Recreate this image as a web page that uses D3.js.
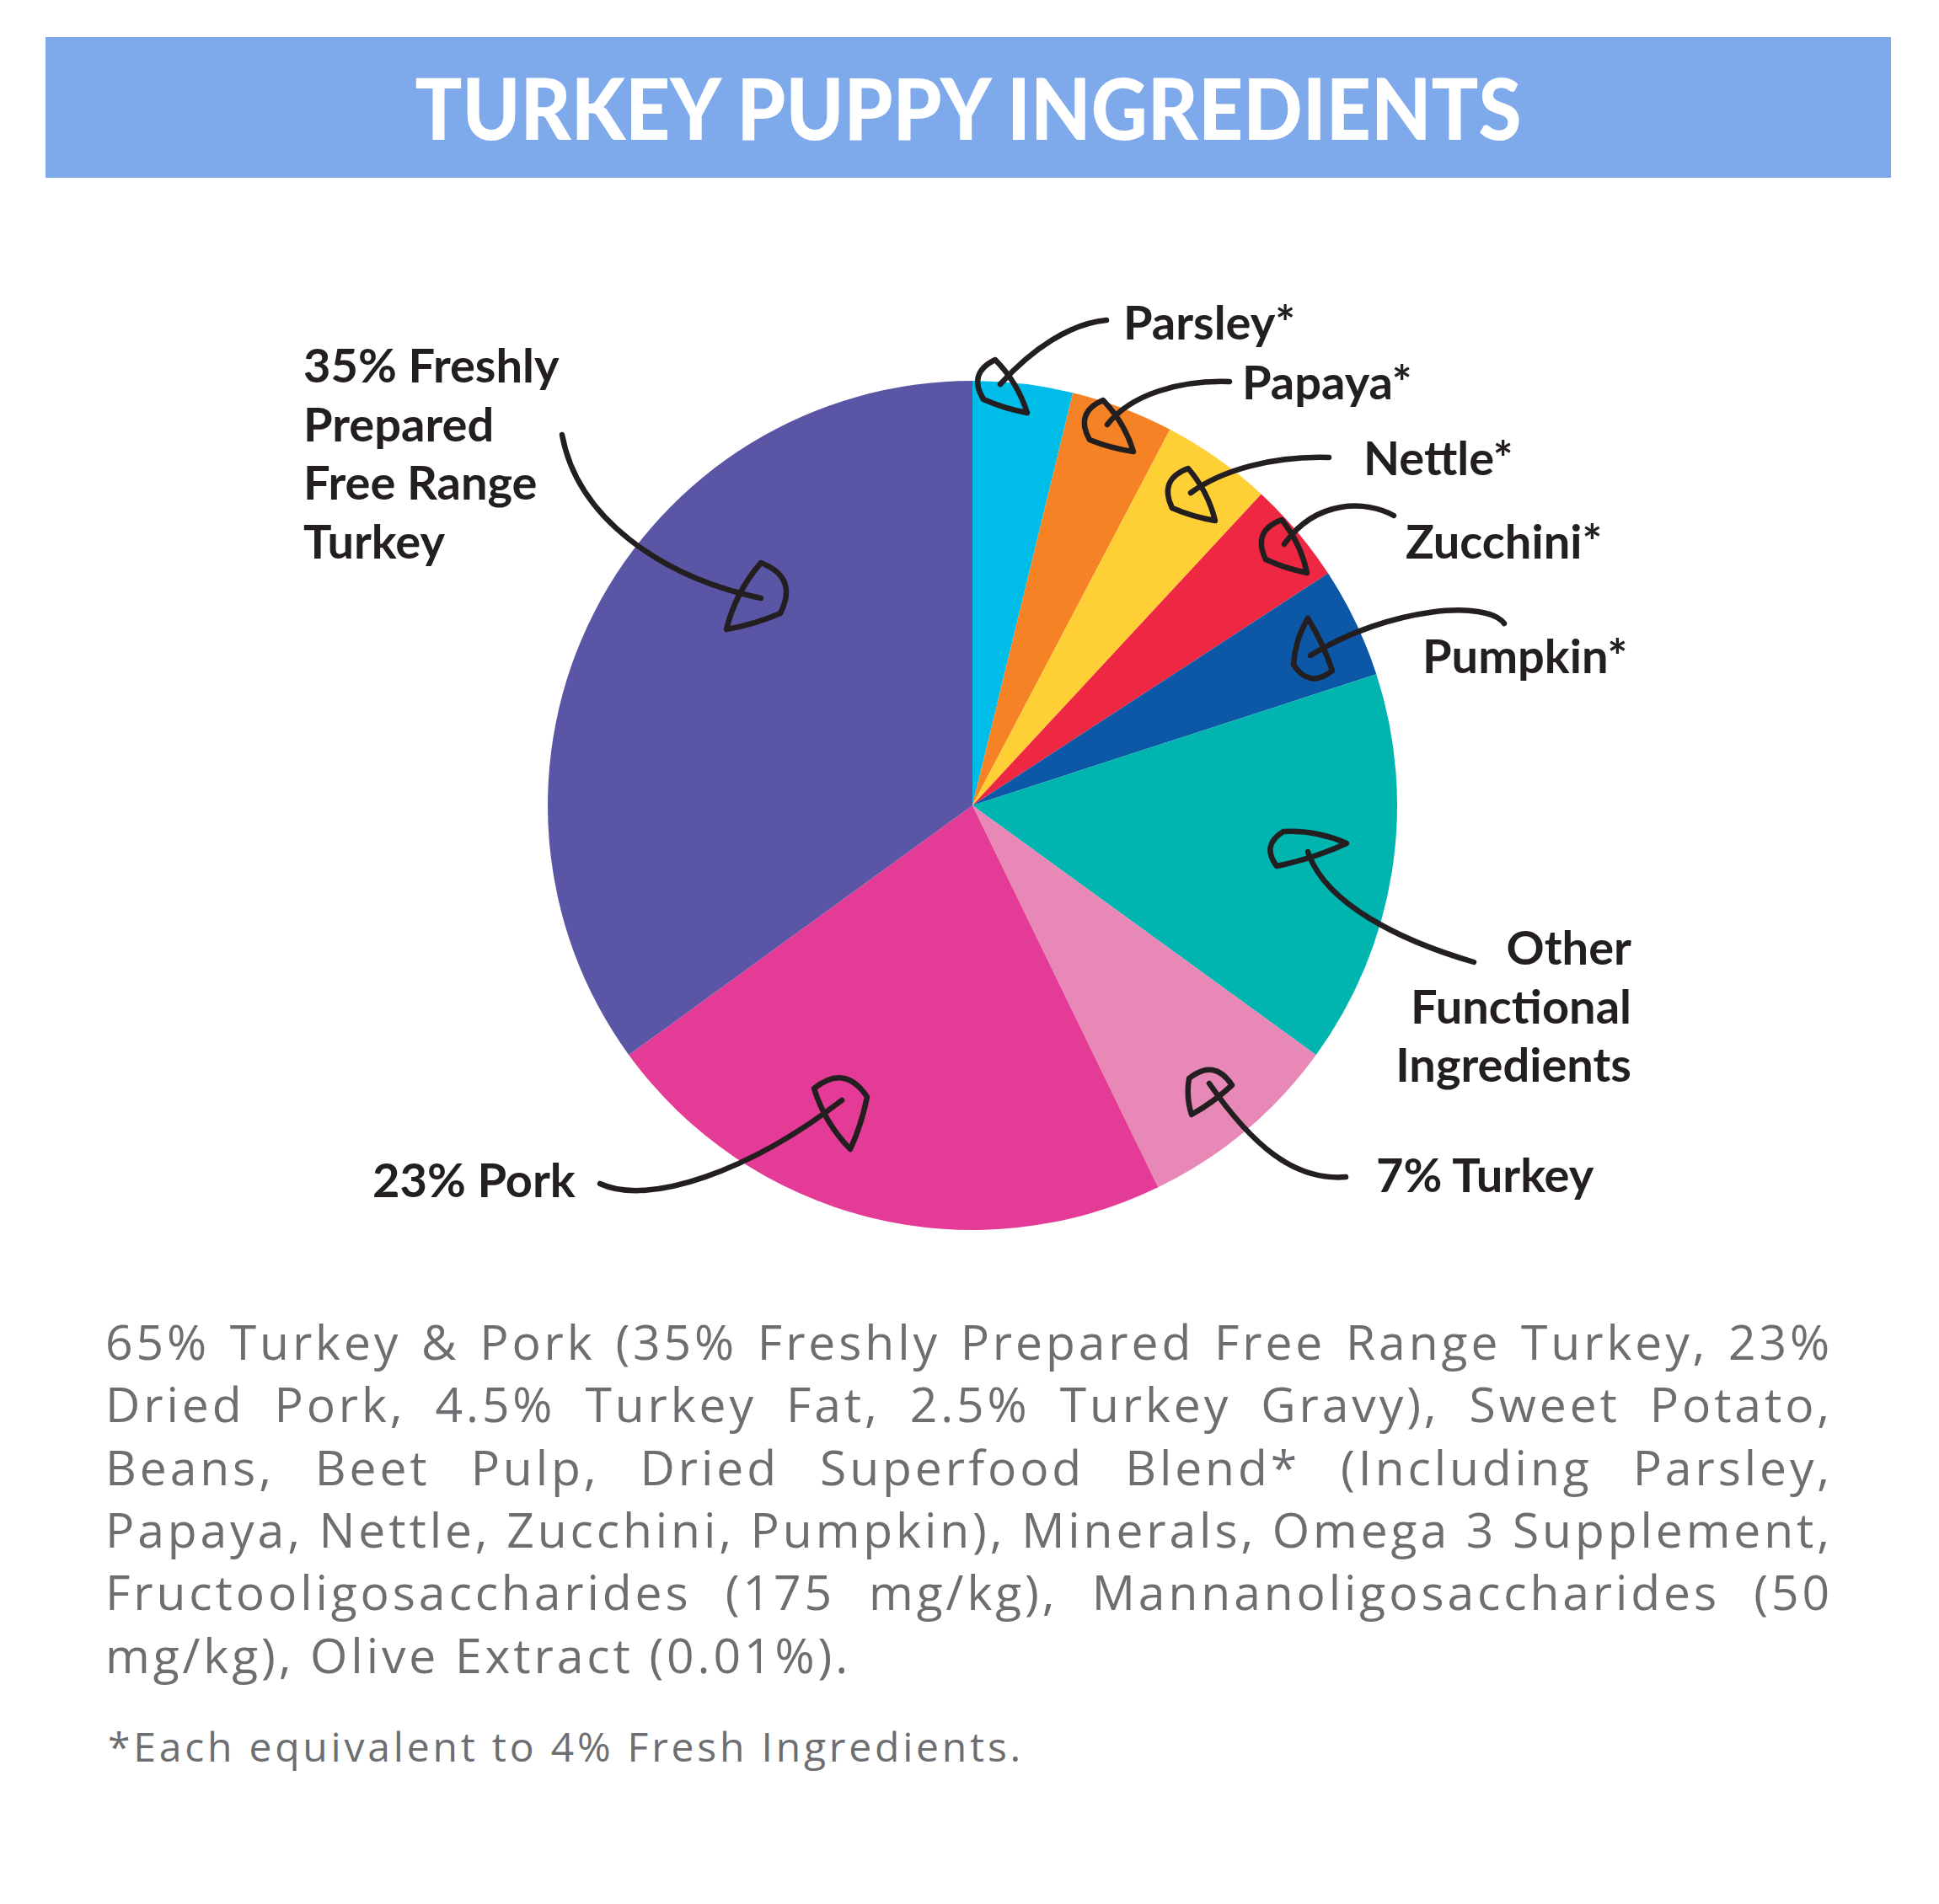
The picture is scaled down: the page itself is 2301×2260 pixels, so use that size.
<!DOCTYPE html>
<html>
<head>
<meta charset="utf-8">
<script src="https://cdn.jsdelivr.net/npm/d3@7"></script>
<style>
  html, body { margin: 0; padding: 0; background: #fff; }
  svg { display: block; }
</style>
</head>
<body>
<svg id="chart" width="2301" height="2260"></svg>
<script>
// Turkey puppy ingredients pie, redrawn with D3

const TITLE = 'TURKEY PUPPY INGREDIENTS';

// slices, clockwise from 12 o'clock
const categories = ['Parsley', 'Papaya', 'Nettle', 'Zucchini', 'Pumpkin',
  'Other', 'Turkey7', 'Pork', 'Turkey35'];
const shares = [3.8, 3.9, 4.2, 3.9, 4.2, 15.0, 7.8, 22.2, 35.0];
const colors = ['#00BCE8', '#F58325', '#FFCF36', '#EE2843', '#0C57A6',
  '#00B4B0', '#E888B6', '#E43B96', '#5A56A5'];
const labels = [
  ['Parsley*'], ['Papaya*'], ['Nettle*'], ['Zucchini*'], ['Pumpkin*'],
  ['Other', 'Functional', 'Ingredients'], ['7% Turkey'], ['23% Pork'],
  ['35% Freshly', 'Prepared', 'Free Range', 'Turkey']
];

const bodyLines = [
  '65% Turkey & Pork (35% Freshly Prepared Free Range Turkey, 23%',
  'Dried Pork, 4.5% Turkey Fat, 2.5% Turkey Gravy), Sweet Potato,',
  'Beans, Beet Pulp, Dried Superfood Blend* (Including Parsley,',
  'Papaya, Nettle, Zucchini, Pumpkin), Minerals, Omega 3 Supplement,',
  'Fructooligosaccharides (175 mg/kg), Mannanoligosaccharides (50',
  'mg/kg), Olive Extract (0.01%).'
];
const footnote = '*Each equivalent to 4% Fresh Ingredients.';

// hand drawn callouts: label spot, curve, and the little pen loop at its end
// head = tip point, then the two corners of the rounded back
const callouts = {
  Parsley:  { x: 1333, y: 403, anchor: 'start', path: 'M1313,380 C1270,384 1225,414 1187,456', head: [1219, 490, 1181, 427, 1167, 474] },
  Papaya:   { x: 1474, y: 474, anchor: 'start', path: 'M1459,453 C1400,451 1342,468 1314,504', head: [1345, 536, 1309, 475, 1293, 522] },
  Nettle:   { x: 1618, y: 564, anchor: 'start', path: 'M1577,543 C1510,541 1450,558 1413,585', head: [1442, 618, 1410, 556, 1391, 603] },
  Zucchini: { x: 1668, y: 663, anchor: 'start', path: 'M1654,612 C1622,594 1562,592 1524,646', head: [1551, 680, 1521, 617, 1502, 664] },
  Pumpkin:  { x: 1688, y: 799, anchor: 'start', path: 'M1785,740 C1765,712 1650,720 1555,778', head: [1552, 734, 1535, 789, 1581, 796] },
  Other:    { x: 1936, y: 1145, anchor: 'end', path: 'M1749,1142 C1660,1116 1572,1072 1552,1011', head: [1598, 1001, 1523, 987, 1515, 1028] },
  Turkey7:  { x: 1633, y: 1415, anchor: 'start', path: 'M1597,1397 C1535,1402 1485,1358 1435,1286', head: [1414, 1323, 1411, 1280, 1462, 1288] },
  Pork:     { x: 442, y: 1421, anchor: 'start', path: 'M712,1405 C770,1432 890,1390 999,1306', head: [1009, 1364, 966, 1292, 1029, 1302] },
  Turkey35: { x: 360, y: 454, anchor: 'start', path: 'M667,516 C685,615 785,685 903,710', head: [862, 747, 903, 668, 926, 728] }
};

const W = 2301, H = 2260;
const CX = 1154, CY = 956, R = 504;
const INK = '#231F20';
const GREY = '#6D6E71';

const svg = d3.select('#chart');

// banner
svg.append('rect')
  .attr('x', 54).attr('y', 44)
  .attr('width', 2190).attr('height', 167)
  .attr('fill', '#7EA9EB');

svg.append('text')
  .attr('x', 1149).attr('y', 166)
  .attr('text-anchor', 'middle')
  .attr('font-family', 'Lato, sans-serif')
  .attr('font-weight', 900)
  .attr('font-size', 101)
  .attr('fill', '#fff')
  .attr('textLength', 1313)
  .attr('lengthAdjust', 'spacingAndGlyphs')
  .text(TITLE);

// pie
const pie = d3.pie().sort(null).value(d => d)(shares);
const arc = d3.arc().innerRadius(0).outerRadius(R);

const g = svg.append('g').attr('transform', `translate(${CX},${CY})`);
g.selectAll('path')
  .data(pie)
  .join('path')
  .attr('d', arc)
  .attr('fill', (d, i) => colors[i]);

// pen loop: a tip and a rounded back, sides bowed out a little
function loopPath([px, py, ax, ay, bx, by]) {
  const gx = (px + ax + bx) / 3, gy = (py + ay + by) / 3;
  const ctrl = (x1, y1, x2, y2, k) => {
    const mx = (x1 + x2) / 2, my = (y1 + y2) / 2;
    let nx = -(y2 - y1), ny = x2 - x1;
    if (nx * (mx - gx) + ny * (my - gy) < 0) { nx = -nx; ny = -ny; }
    return [mx + nx * k, my + ny * k];
  };
  const s1 = ctrl(px, py, ax, ay, 0.12);
  const back = ctrl(ax, ay, bx, by, 0.55);
  const s2 = ctrl(bx, by, px, py, 0.06);
  return `M${px},${py} Q${s1[0]},${s1[1]} ${ax},${ay}` +
    ` Q${back[0]},${back[1]} ${bx},${by}` +
    ` Q${s2[0]},${s2[1]} ${px},${py} Z`;
}

const notes = svg.append('g')
  .attr('fill', 'none')
  .attr('stroke', INK)
  .attr('stroke-width', 6.5)
  .attr('stroke-linecap', 'round')
  .attr('stroke-linejoin', 'round');

categories.forEach(key => {
  const c = callouts[key];
  notes.append('path').attr('d', c.path);
  notes.append('path').attr('d', loopPath(c.head));
});

categories.forEach((key, i) => {
  const c = callouts[key];
  const t = svg.append('text')
    .attr('font-family', 'Lato, sans-serif')
    .attr('font-weight', 700)
    .attr('font-size', 56)
    .attr('fill', INK)
    .attr('text-anchor', c.anchor);
  labels[i].forEach((line, j) => {
    t.append('tspan')
      .attr('x', c.x)
      .attr('y', c.y + j * 69.5)
      .text(line);
  });
});

// ingredient list, justified like the print
const LEFT = 125, RIGHT = 2175, FIRST = 1614, LEAD = 74.3;
const LAST_LINE_END = 1010;
const BODY_SIZE = 57;
const body = svg.append('g')
  .attr('font-family', '"Open Sans", sans-serif')
  .attr('font-size', BODY_SIZE)
  .attr('fill', GREY);

// the print face runs wider than ours: find the tracking from the ragged last line
const lastLine = bodyLines[bodyLines.length - 1];
const probe = body.append('text').text(lastLine);
const probeW = probe.node().getComputedTextLength();
const track = (LAST_LINE_END - LEFT - probeW) / lastLine.length;
probe.remove();
body.attr('letter-spacing', track);

bodyLines.forEach((line, li) => {
  const words = line.split(' ');
  const y = FIRST + li * LEAD;
  const t = body.append('text').attr('y', y);
  const spans = words.map(w => t.append('tspan').text(w));
  const widths = spans.map(s => s.node().getComputedTextLength());
  const total = d3.sum(widths);
  const last = li === bodyLines.length - 1;
  const space = 0.26 * BODY_SIZE + track;
  const gap = last ? space : (RIGHT - LEFT - total) / (words.length - 1);
  let x = LEFT;
  spans.forEach((s, k) => {
    s.attr('x', x);
    x += widths[k] + gap;
  });
});

const foot = svg.append('text')
  .attr('x', 128).attr('y', 2091)
  .attr('font-family', '"Open Sans", sans-serif')
  .attr('font-size', 48)
  .attr('fill', GREY)
  .text(footnote);
const footW = foot.node().getComputedTextLength();
foot.attr('letter-spacing', (1087 - footW) / footnote.length);
</script>
</body>
</html>
